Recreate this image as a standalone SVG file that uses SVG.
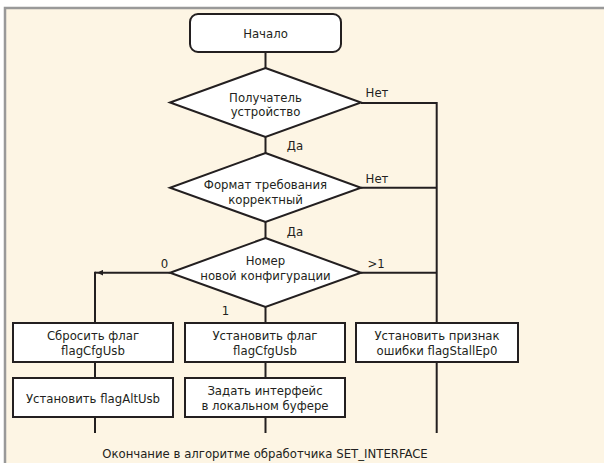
<svg xmlns="http://www.w3.org/2000/svg" width="604" height="463" viewBox="0 0 604 463">
<style>
.ln{fill:none;stroke:#231f20;stroke-width:2}
.nd{fill:#fff;stroke:#231f20;stroke-width:2}
text{font-family:"DejaVu Sans Condensed","Liberation Sans",sans-serif;font-stretch:condensed;font-size:13px;fill:#231f20;text-anchor:middle}
</style>
<defs>
<marker id="ah" viewBox="0 0 10 10" refX="2" refY="5" markerWidth="6" markerHeight="6" orient="auto-start-reverse" markerUnits="userSpaceOnUse">
<path d="M0,0 L10,5 L0,10 z" fill="#231f20"/>
</marker>
</defs>
<rect x="0" y="0" width="604" height="463" fill="#fff"/>
<rect x="5" y="8" width="599" height="455" fill="#fdf5e4"/>
<path d="M5,463 V8 H604" fill="none" stroke="#999" stroke-width="2.5"/>
<g id="connectors">
<path class="ln" d="M265.5,52 V68"/>
<path class="ln" d="M265.5,137 V153"/>
<path class="ln" d="M265.5,222 V238"/>
<path class="ln" d="M265.5,307 V323"/>
<path class="ln" d="M265.5,362 V378"/>
<path class="ln" d="M265.5,417 V433"/>
<path class="ln" d="M361,103 H436.7 V323"/>
<path class="ln" d="M361,187.7 H436.7"/>
<path class="ln" d="M361,272.7 H436.7"/>
<path class="ln" d="M436.7,362 V433"/>
<path class="ln" d="M170,272.7 H102" marker-end="url(#ah)"/>
<path class="ln" d="M95,272.7 H101"/>
<path class="ln" d="M95,271.7 V323"/>
<path class="ln" d="M95,362 V378"/>
<path class="ln" d="M95,417 V433"/>
<text x="377" y="97">Нет</text>
<text x="377" y="183">Нет</text>
<text x="295" y="150">Да</text>
<text x="295" y="236">Да</text>
<text x="164.5" y="268">0</text>
<text x="376" y="268">&gt;1</text>
<text x="225.5" y="315">1</text>
</g>
<g id="start">
<rect class="nd" x="190" y="14" width="151" height="38" rx="8"/>
<text x="265.5" y="38">Начало</text>
</g>
<g id="d1">
<polygon class="nd" points="265.5,68 361,102.5 265.5,137 170,102.5"/>
<text x="265.5" y="101.5">Получатель</text>
<text x="265.5" y="116">устройство</text>
</g>
<g id="d2">
<polygon class="nd" points="265.5,153 361,187.7 265.5,222 170,187.7"/>
<text x="265.5" y="188.5">Формат требования</text>
<text x="265.5" y="203.5">корректный</text>
</g>
<g id="d3">
<polygon class="nd" points="265.5,238 361,272.7 265.5,307 170,272.7"/>
<text x="265.5" y="264.5">Номер</text>
<text x="265.5" y="279.5">новой конфигурации</text>
</g>
<g id="b1">
<rect class="nd" x="13" y="323" width="160" height="39"/>
<text x="93" y="340">Сбросить флаг</text>
<text x="93" y="354.5">flagCfgUsb</text>
</g>
<g id="b2">
<rect class="nd" x="185" y="323" width="160" height="39"/>
<text x="265" y="340">Установить флаг</text>
<text x="265" y="354.5">flagCfgUsb</text>
</g>
<g id="b3">
<rect class="nd" x="356" y="323" width="162" height="39"/>
<text x="437" y="340">Установить признак</text>
<text x="437" y="354.5">ошибки flagStallEp0</text>
</g>
<g id="b4">
<rect class="nd" x="13" y="378" width="160" height="39"/>
<text x="93" y="402.5">Установить flagAltUsb</text>
</g>
<g id="b5">
<rect class="nd" x="185" y="378" width="160" height="39"/>
<text x="265" y="395">Задать интерфейс</text>
<text x="265" y="410">в локальном буфере</text>
</g>
<text x="265" y="458">Окончание в алгоритме обработчика SET_INTERFACE</text>
</svg>
